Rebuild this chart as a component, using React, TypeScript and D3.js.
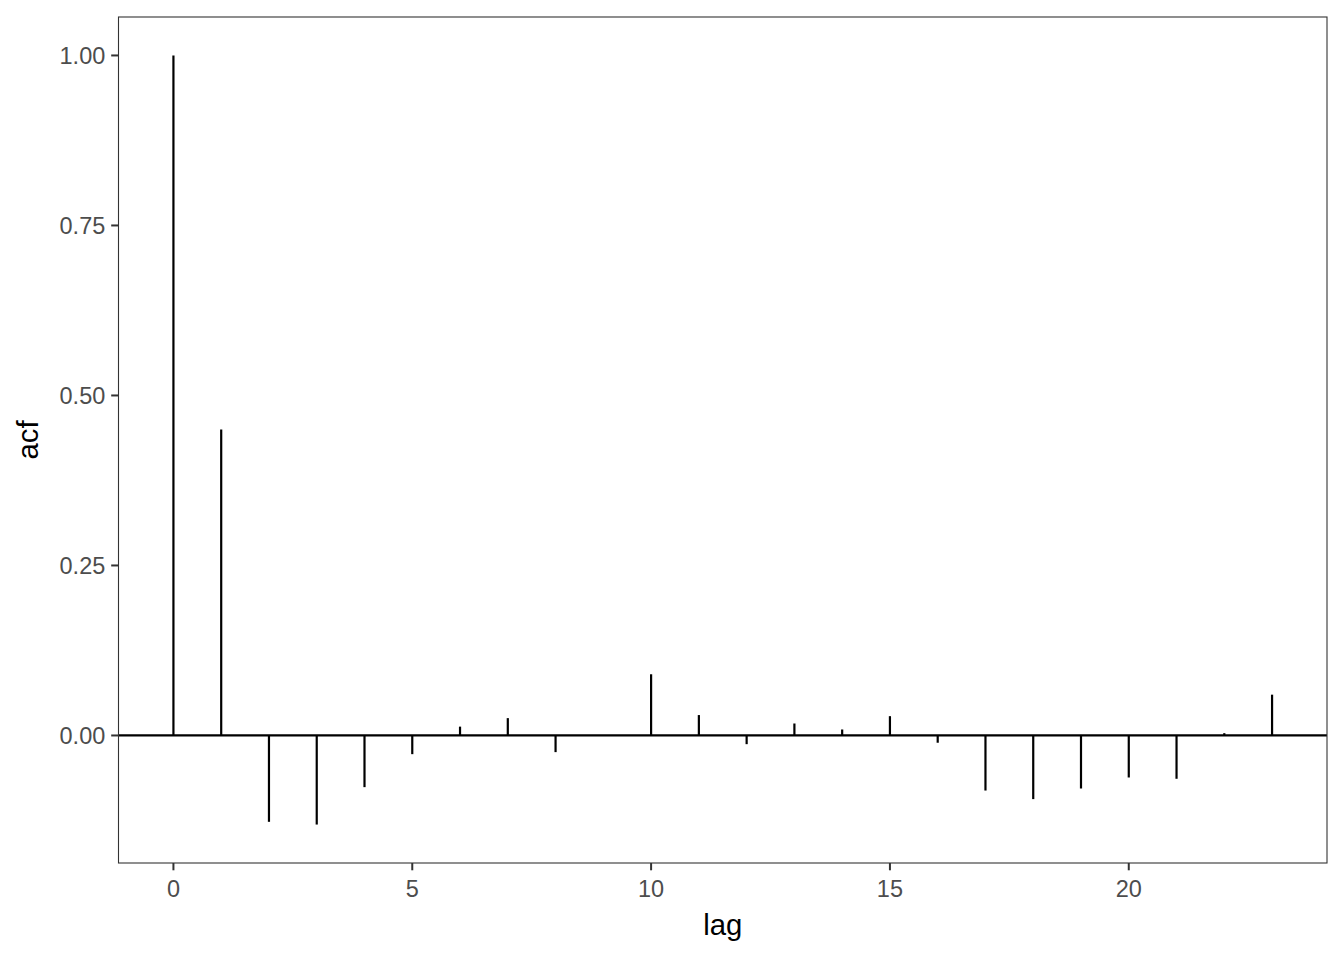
import React, { useEffect, useRef } from "react";
import * as d3 from "d3";

const lags = [0, 1, 2, 3, 4, 5, 6, 7, 8, 9, 10, 11, 12, 13, 14, 15, 16, 17, 18, 19, 20, 21, 22, 23];
const acfValues = [
  1.0, 0.45, -0.127, -0.131, -0.076, -0.0275, 0.013, 0.0255, -0.0245, 0.0,
  0.09, 0.030, -0.0128, 0.0176, 0.0088, 0.0284, -0.0107, -0.081, -0.0936, -0.078,
  -0.0618, -0.0637, 0.0034, 0.060,
];
const xTicks = [0, 5, 10, 15, 20];
const yTicks = [0, 0.25, 0.5, 0.75, 1.0];

const W = 1344;
const H = 960;
const panel = { left: 118.5, right: 1327, top: 17, bottom: 863 };

export default function App() {
  const ref = useRef<SVGSVGElement>(null);

  useEffect(() => {
    const svg = d3.select(ref.current);
    svg.selectAll("*").remove();

    const xMin = d3.min(lags)!;
    const xMax = d3.max(lags)!;
    const xPad = (xMax - xMin) * 0.05;
    const yMin = Math.min(0, d3.min(acfValues)!);
    const yMax = d3.max(acfValues)!;
    const yPad = (yMax - yMin) * 0.05;

    const x = d3.scaleLinear().domain([xMin - xPad, xMax + xPad]).range([panel.left, panel.right]);
    const y = d3.scaleLinear().domain([yMin - yPad, yMax + yPad]).range([panel.bottom, panel.top]);

    svg.append("rect").attr("x", 0).attr("y", 0).attr("width", W).attr("height", H).attr("fill", "#fff");

    // zero line
    svg.append("line")
      .attr("x1", panel.left).attr("x2", panel.right)
      .attr("y1", y(0)).attr("y2", y(0))
      .attr("stroke", "#000").attr("stroke-width", 2.2);

    // segments
    svg.append("g").selectAll("line")
      .data(lags.map((l, i) => ({ l, v: acfValues[i] })))
      .join("line")
      .attr("x1", (d) => x(d.l)).attr("x2", (d) => x(d.l))
      .attr("y1", y(0)).attr("y2", (d) => y(d.v))
      .attr("stroke", "#000").attr("stroke-width", 2.2);

    // panel border
    svg.append("rect")
      .attr("x", panel.left).attr("y", panel.top)
      .attr("width", panel.right - panel.left).attr("height", panel.bottom - panel.top)
      .attr("fill", "none").attr("stroke", "#333").attr("stroke-width", 1.1);

    const font = "'Liberation Sans', Arial, Helvetica, sans-serif";

    // x ticks
    const gx = svg.append("g");
    xTicks.forEach((t) => {
      gx.append("line")
        .attr("x1", x(t)).attr("x2", x(t))
        .attr("y1", panel.bottom).attr("y2", panel.bottom + 7.3)
        .attr("stroke", "#333").attr("stroke-width", 2);
      gx.append("text")
        .attr("x", x(t)).attr("y", 897)
        .attr("text-anchor", "middle")
        .attr("font-family", font).attr("font-size", 23.5)
        .attr("fill", "#4D4D4D")
        .text(String(t));
    });

    // y ticks
    const gy = svg.append("g");
    yTicks.forEach((t) => {
      gy.append("line")
        .attr("x1", panel.left - 7.3).attr("x2", panel.left)
        .attr("y1", y(t)).attr("y2", y(t))
        .attr("stroke", "#333").attr("stroke-width", 2);
      gy.append("text")
        .attr("x", panel.left - 7.3 - 5.9).attr("y", y(t) + 8.5)
        .attr("text-anchor", "end")
        .attr("font-family", font).attr("font-size", 23.5)
        .attr("fill", "#4D4D4D")
        .text(d3.format(".2f")(t));
    });

    // axis titles
    svg.append("text")
      .attr("x", (panel.left + panel.right) / 2).attr("y", 935)
      .attr("text-anchor", "middle")
      .attr("font-family", font).attr("font-size", 29.3)
      .attr("fill", "#000")
      .text("lag");

    svg.append("text")
      .attr("transform", `translate(38,${(panel.top + panel.bottom) / 2}) rotate(-90)`)
      .attr("text-anchor", "middle")
      .attr("font-family", font).attr("font-size", 29.3)
      .attr("fill", "#000")
      .text("acf");
  }, []);

  return (
    <svg
      ref={ref}
      width={W}
      height={H}
      style={{ position: "absolute", left: 0, top: 0, display: "block" }}
    />
  );
}
